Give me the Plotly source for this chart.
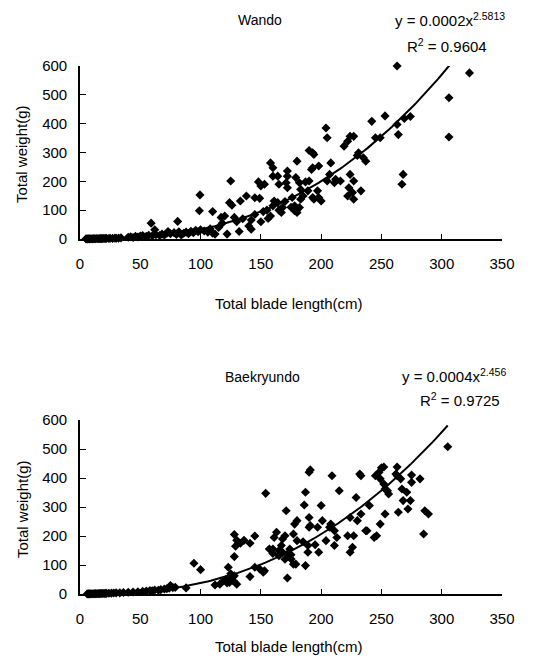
import numpy as np
import plotly.graph_objects as go

# data: blade length (cm) vs total weight (g)
wando_len = [5, 6, 7, 8, 9, 10, 11, 12, 13, 14, 15, 16, 17, 18, 19, 20, 21, 22, 24, 25, 27, 29, 30, 32, 34,
             40, 42, 44, 46, 48, 50, 52, 55, 57, 60, 63, 66, 68, 70, 72, 75, 78, 80, 82, 84, 86, 88, 90, 92,
             94, 96, 98, 100, 103, 106, 108, 110,
             59, 62, 73, 81, 99.5, 99, 110, 112, 122, 125, 124, 126, 117, 120, 128, 132, 133, 138, 142, 142,
             145, 149, 148, 150, 153, 155, 156, 158, 158, 160, 160, 164, 161, 164, 165, 167, 168, 171, 172,
             172, 172, 176, 178, 178, 180, 180, 179, 182, 183, 183, 185, 182, 180, 190, 193, 194, 187, 190,
             192, 193, 189, 193, 194, 198, 197, 198, 200, 204, 205, 205, 207, 208, 211, 212, 216, 219, 222,
             224, 227, 222, 223, 226, 224, 227, 227, 231, 233, 235, 237, 242, 245, 249, 263, 264, 267, 268,
             263, 323, 306, 306, 253, 269, 274, 230, 150, 140, 115, 118, 130, 135, 145, 152, 160, 165, 170, 175]
wando_wt = [0.5, 0.3, 0.8, 0.5, 1, 0.6, 1.2, 0.8, 1, 1.5, 0.9, 1.3, 1.8, 1.2, 2, 1.5, 1.8, 2.2, 1.6, 2.5, 2, 3, 2.5, 3, 4,
            6, 8, 5, 9, 7, 10, 12, 9, 13, 11, 15, 12, 17, 14, 20, 18, 22, 16, 25, 14, 20, 24, 18, 27,
            22, 30, 25, 32, 28, 24, 35, 20,
            55, 32, 26, 61, 153, 98, 95, 17, 17, 201, 126, 117, 75, 80, 75, 26, 132, 149, 66, 34,
            143, 141, 198, 184, 190, 100, 71, 80, 264, 247, 218, 218, 132, 126, 190, 92, 109, 195, 236,
            218, 178, 144, 115, 98, 92, 270, 213, 195, 172, 138, 149, 109, 103, 307, 299, 293, 198, 201,
            241, 247, 167, 144, 138, 253, 167, 144, 132, 385, 351, 201, 224, 264, 195, 207, 201, 322, 339,
            356, 356, 149, 178, 161, 224, 201, 138, 299, 167, 282, 270, 408, 351, 351, 397, 362, 190, 224,
            600, 576, 490, 354, 427, 418, 425, 290, 60, 45, 40, 55, 60, 70, 85, 95, 115, 100, 130, 110]

baek_len = [6, 7, 8, 9, 10, 11, 12, 13, 14, 15, 16, 17, 18, 19, 20, 21, 22, 24, 26, 28, 30, 33, 36, 40, 44,
            48, 52, 55, 58, 60, 62, 65, 67, 70, 72, 74, 75, 77, 79, 88,
            94.5, 100, 112, 116, 119, 123, 126, 127, 128, 130, 124, 122, 121, 125, 128, 130, 133, 136, 141,
            145, 129, 128, 141, 145, 149, 152, 153, 154, 157, 160, 161, 163, 167, 168, 170, 171, 172, 165,
            168, 172, 175, 177, 179, 174, 177, 178, 180, 180, 187, 189, 186, 187, 190, 189, 190, 190, 191,
            197, 198, 200, 201, 204, 207, 208, 211, 211, 209, 215, 213, 222, 224, 224, 226, 227, 230, 233,
            229, 233, 237, 238, 240, 244, 246, 249, 253, 245, 248, 249, 252, 253, 255, 256, 262, 263, 266,
            267, 264, 268, 271, 272, 274, 275, 282, 285, 286, 289, 191, 232, 250, 252, 263, 275, 305,
            170, 165, 175, 185, 195, 160]
baek_wt = [0.3, 0.5, 0.4, 0.8, 0.6, 1, 0.9, 1.2, 1, 1.4, 1.2, 1.6, 1.5, 2, 1.8, 2, 2.2, 2.5, 3, 3.5, 4, 4, 5, 6, 7,
           8, 9, 10, 12, 11, 14, 13, 15, 17, 18, 20, 29, 22, 23, 21,
           106, 84, 31, 34, 46, 92, 57, 46, 63, 34, 40, 38, 50, 70, 205, 185, 175, 185, 175,
           200, 165, 129, 60, 92, 86, 75, 80, 347, 155, 155, 195, 213, 167, 190, 201, 287, 55, 132,
           144, 138, 121, 103, 103, 155, 207, 241, 253, 184, 98, 144, 307, 351, 420, 167, 264, 230, 236,
           230, 144, 305, 253, 184, 230, 241, 167, 218, 408, 356, 195, 201, 264, 144, 161, 201, 253, 276,
           333, 408, 218, 218, 305, 195, 201, 241, 276, 408, 420, 397, 379, 362, 356, 345, 414, 408, 397,
           362, 282, 322, 351, 293, 322, 385, 397, 207, 287, 276, 428, 414, 435, 438, 438, 410, 508,
           120, 150, 135, 180, 170, 140]

# power trend lines (coefficient, exponent from the label)
wando_coef, wando_exp, wando_end = 0.00023, 2.5813, 307
baek_coef, baek_exp, baek_end = 0.00046, 2.456, 305

x_ticks = [0, 50, 100, 150, 200, 250, 300, 350]
y_ticks = [0, 100, 200, 300, 400, 500, 600]

# the page body has an 8px margin, so the figure is 16px smaller than the window
PAD = 8
W, H = 558 - 2 * PAD, 666 - 2 * PAD
FONT = "Liberation Sans, Arial, sans-serif"

def px_x(p):
    return (p - PAD) / W

def px_y(p):
    return (H - (p - PAD)) / H

fig = go.Figure()

panels = [
    # lengths, weights, coef, exp, end, axis suffix, y px of zero, y px of 600
    (wando_len, wando_wt, wando_coef, wando_exp, wando_end, "", 239, 66),
    (baek_len, baek_wt, baek_coef, baek_exp, baek_end, "2", 594, 420),
]

for lens, wts, a, b, end, sfx, y0, y600 in panels:
    fig.add_trace(go.Scatter(
        x=lens, y=wts, mode="markers",
        marker=dict(symbol="diamond", size=7, color="black"),
        cliponaxis=False, showlegend=False,
        xaxis="x" + sfx, yaxis="y" + sfx,
    ))
    xs = np.linspace(5, end, 120)
    fig.add_trace(go.Scatter(
        x=xs, y=a * xs ** b, mode="lines",
        line=dict(color="black", width=2),
        cliponaxis=False, showlegend=False,
        xaxis="x" + sfx, yaxis="y" + sfx,
    ))
    xa = dict(
        domain=[px_x(80), px_x(502)], range=[0, 350],
        tickvals=x_ticks, ticks="inside", ticklen=5, tickwidth=1.3, tickcolor="black",
        showline=True, linecolor="black", linewidth=1.6, showgrid=False, zeroline=False,
        tickfont=dict(family=FONT, size=15, color="black"), ticklabelstandoff=10,
        anchor="y" + sfx, automargin=False,
    )
    ya = dict(
        domain=[px_y(y0), px_y(y600)], range=[0, 600],
        tickvals=y_ticks, ticks="inside", ticklen=6, tickwidth=1.3, tickcolor="black",
        showline=True, linecolor="black", linewidth=1.6, showgrid=False, zeroline=False,
        tickfont=dict(family=FONT, size=15, color="black"), ticklabelstandoff=8,
        anchor="x" + sfx, automargin=False,
    )
    fig.update_layout(**{"xaxis" + sfx: xa, "yaxis" + sfx: ya})

def note(text, x, y, size=15, xanchor="center", angle=0, yanchor="middle"):
    fig.add_annotation(
        text=text, x=px_x(x), y=px_y(y), xref="paper", yref="paper",
        showarrow=False, xanchor=xanchor, yanchor=yanchor, textangle=angle,
        font=dict(family=FONT, size=size, color="black"),
    )

# top panel texts
note("Wando", 260, 20, size=14)
note("y = 0.0002x<sup>2.5813</sup>", 393, 20, xanchor="left")
note("R<sup>2</sup> = 0.9604", 405, 46, xanchor="left")
note("Total blade length(cm)", 289, 303)
note("Total weight(g)", 22, 205, angle=-90, yanchor="bottom")

# bottom panel texts
note("Baekryundo", 262, 377, size=14)
note("y = 0.0004x<sup>2.456</sup>", 400, 375, xanchor="left")
note("R<sup>2</sup> = 0.9725", 418, 399, xanchor="left")
note("Total blade length(cm)", 289, 657, yanchor="bottom")
note("Total weight(g)", 22, 560, angle=-90, yanchor="bottom")

fig.update_layout(
    width=W, height=H,
    margin=dict(l=0, r=0, t=0, b=0),
    paper_bgcolor="white", plot_bgcolor="white",
)

fig.write_html("out.html")
